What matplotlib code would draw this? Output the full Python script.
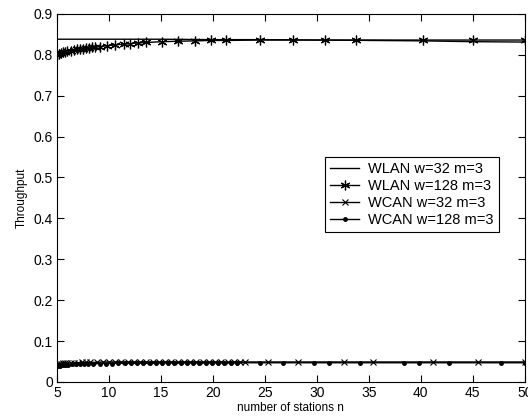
import numpy as np
import matplotlib
matplotlib.use('Agg')
import matplotlib.pyplot as plt

plt.rcParams['font.family'] = ['Liberation Sans', 'DejaVu Sans']

# WLAN w=32 m=3
n_wlan32 = [5, 10, 15, 20, 25, 30, 35, 40, 45, 50]
thr_wlan32 = [0.838, 0.838, 0.838, 0.837, 0.837, 0.836, 0.835, 0.834, 0.832, 0.831]

# WLAN w=128 m=3
n_wlan128 = [5.0, 5.2, 5.4, 5.6, 5.8, 6.0, 6.3, 6.6, 6.9, 7.2, 7.5, 7.8, 8.1, 8.4, 8.7,
             9.1, 9.8, 10.6, 11.4, 12.0, 12.8, 13.6, 15.1, 16.6, 18.3, 19.8, 21.3, 24.5,
             27.7, 30.8, 33.8, 40.2, 45.0, 50.0]
thr_wlan128 = [0.800, 0.802, 0.804, 0.806, 0.807, 0.808, 0.810, 0.811, 0.813, 0.814, 0.815,
               0.816, 0.817, 0.818, 0.819, 0.820, 0.822, 0.824, 0.826, 0.827, 0.829, 0.830,
               0.832, 0.833, 0.834, 0.835, 0.835, 0.836, 0.836, 0.836, 0.836, 0.836, 0.836,
               0.836]

# WCAN w=32 m=3
n_wcan32 = [5.0, 5.2, 5.4, 5.6, 5.8, 6.0, 6.3, 6.6, 7.0, 7.4, 7.8, 8.2, 8.8, 9.4, 10.0,
            10.6, 11.2, 11.8, 12.4, 13.0, 13.6, 14.2, 14.8, 15.4, 16.0, 16.6, 17.2, 17.8,
            18.4, 19.0, 19.6, 20.2, 20.8, 21.4, 22.0, 22.6, 23.1, 25.3, 28.2, 32.6, 35.4,
            41.2, 45.5, 50.0]
thr_wcan32 = [0.044, 0.045, 0.045, 0.046, 0.046, 0.046, 0.047, 0.047, 0.047, 0.048, 0.048,
              0.048, 0.048, 0.049, 0.049, 0.049, 0.049, 0.049, 0.049, 0.049, 0.049, 0.049,
              0.049, 0.049, 0.049, 0.049, 0.049, 0.049, 0.049, 0.049, 0.049, 0.049, 0.049,
              0.049, 0.049, 0.049, 0.049, 0.049, 0.049, 0.049, 0.049, 0.049, 0.049, 0.049]

# WCAN w=128 m=3
n_wcan128 = [5.0, 5.1, 5.3, 5.5, 5.7, 5.9, 6.1, 6.4, 6.8, 7.2, 7.6, 8.0, 8.5, 9.1, 9.7,
             10.3, 10.9, 11.5, 12.1, 12.7, 13.3, 13.9, 14.5, 15.1, 15.7, 16.3, 16.9, 17.5,
             18.1, 18.7, 19.3, 19.9, 20.5, 21.1, 21.7, 22.3, 24.5, 26.7, 29.7, 31.2, 34.1,
             38.4, 39.8, 42.7, 47.7, 50.0]
thr_wcan128 = [0.038, 0.039, 0.040, 0.041, 0.041, 0.042, 0.042, 0.043, 0.043, 0.044, 0.044,
               0.044, 0.045, 0.045, 0.045, 0.045, 0.046, 0.046, 0.046, 0.046, 0.046, 0.046,
               0.046, 0.047, 0.047, 0.047, 0.047, 0.047, 0.047, 0.047, 0.047, 0.047, 0.047,
               0.047, 0.047, 0.047, 0.047, 0.047, 0.047, 0.047, 0.047, 0.047, 0.047, 0.047,
               0.047, 0.047]

x_ticks = [5, 10, 15, 20, 25, 30, 35, 40, 45, 50]
y_ticks = [0, 0.1, 0.2, 0.3, 0.4, 0.5, 0.6, 0.7, 0.8, 0.9]
y_ticklabels = ['0', '0.1', '0.2', '0.3', '0.4', '0.5', '0.6', '0.7', '0.8', '0.9']

fig = plt.figure(figsize=(5.28, 4.2), dpi=100)
ax = fig.add_axes([0.108, 0.0905, 0.886, 0.8765])

ax.plot(n_wlan32, thr_wlan32, color='k', lw=1.0, label='WLAN w=32 m=3')
# MATLAB style asterisk marker
ax.plot(n_wlan128, thr_wlan128, color='k', lw=1.0, marker=(6, 2, 0), markersize=7,
        markeredgewidth=0.9, label='WLAN w=128 m=3')
ax.plot(n_wcan32, thr_wcan32, color='k', lw=1.0, marker='x', markersize=4,
        markeredgewidth=0.8, label='WCAN w=32 m=3')
ax.plot(n_wcan128, thr_wcan128, color='k', lw=1.0, marker='.', markersize=5,
        label='WCAN w=128 m=3')

ax.set_xlim(5, 50)
ax.set_ylim(0, 0.9)
ax.set_xticks(x_ticks)
ax.set_yticks(y_ticks)
ax.set_yticklabels(y_ticklabels)
ax.tick_params(direction='in', length=5, width=0.8, top=True, right=True,
               labelsize=10, pad=3)
for s in ax.spines.values():
    s.set_linewidth(0.8)

ax.set_xlabel('number of stations n', fontsize=8.5, labelpad=1)
ax.set_ylabel('Throughput', fontsize=8.5, labelpad=4)

leg = ax.legend(loc='upper left', bbox_to_anchor=(0.573, 0.611), borderaxespad=0,
                fontsize=10.5, fancybox=False, framealpha=1, edgecolor='k',
                handlelength=2.0, handletextpad=0.6, labelspacing=0.2,
                borderpad=0.35)
leg.get_frame().set_linewidth(0.8)

fig.savefig('out.png', dpi=100)
